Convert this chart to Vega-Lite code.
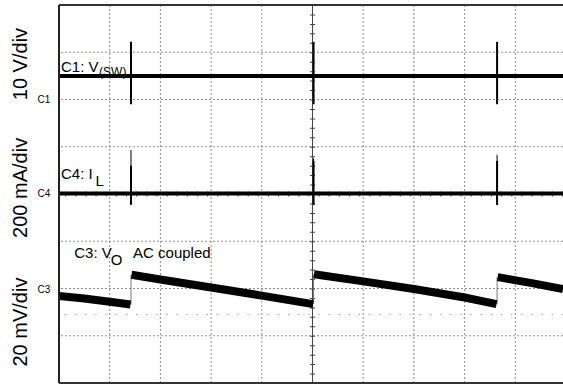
{
  "$schema": "https://vega.github.io/schema/vega-lite/v6.json",
  "autosize": {"type": "none"},
  "padding": {"left": 59, "top": 5, "right": 0, "bottom": 2},
  "width": 504,
  "height": 378,
  "background": "white",
  "config": {"view": {"stroke": null}, "text": {"font": "Liberation Sans"}},
  "datasets": {
    "gridx": [{"x": 1}, {"x": 2}, {"x": 3}, {"x": 4}, {"x": 6}, {"x": 7}, {"x": 8}, {"x": 9}],
    "gridy": [{"y": 1}, {"y": 2}, {"y": 3}, {"y": 5}, {"y": 6}, {"y": 7}],
    "c1spikes": [{"x": 1.42, "top": 7.22, "bot": 5.9}, {"x": 5.02, "top": 7.22, "bot": 5.9}, {"x": 8.64, "top": 7.22, "bot": 5.9}],
    "c4spikes": [{"x": 1.42, "top": 4.93, "mid": 4.6, "bot": 3.77}, {"x": 5.02, "top": 4.75, "mid": 4.7, "bot": 3.77}, {"x": 8.64, "top": 4.83, "mid": 4.7, "bot": 3.77}],
    "c3": [
      {"seg": 0, "x": 0.0, "y": 1.84},
      {"seg": 0, "x": 0.5, "y": 1.79},
      {"seg": 0, "x": 1.0, "y": 1.72},
      {"seg": 0, "x": 1.41, "y": 1.66},
      {"seg": 1, "x": 1.43, "y": 2.29},
      {"seg": 1, "x": 2.0, "y": 2.19},
      {"seg": 1, "x": 3.0, "y": 2.02},
      {"seg": 1, "x": 4.0, "y": 1.85},
      {"seg": 1, "x": 5.01, "y": 1.67},
      {"seg": 2, "x": 5.03, "y": 2.3},
      {"seg": 2, "x": 6.0, "y": 2.15},
      {"seg": 2, "x": 7.0, "y": 1.99},
      {"seg": 2, "x": 8.0, "y": 1.81},
      {"seg": 2, "x": 8.63, "y": 1.67},
      {"seg": 3, "x": 8.65, "y": 2.24},
      {"seg": 3, "x": 9.3, "y": 2.12},
      {"seg": 3, "x": 9.94, "y": 1.99}
    ],
    "c3jumps": [{"x": 1.42, "lo": 1.66, "hi": 2.29}, {"x": 5.02, "lo": 1.67, "hi": 2.3}, {"x": 8.64, "lo": 1.67, "hi": 2.24}],
    "ylabels": [{"t": "10 V/div", "x": -0.75, "y": 6.75}, {"t": "200 mA/div", "x": -0.75, "y": 4.13}, {"t": "20 mV/div", "x": -0.75, "y": 1.29}],
    "markers": [{"t": "C1", "x": -0.17, "y": 6.0}, {"t": "C4", "x": -0.17, "y": 4.0}, {"t": "C3", "x": -0.17, "y": 1.97}],
    "labels": [{"t": "C1: V", "x": 0.04, "y": 6.58}, {"t": "C4: I", "x": 0.04, "y": 4.32}, {"t": "C3: V", "x": 0.3, "y": 2.64}, {"t": "AC coupled", "x": 1.46, "y": 2.64}],
    "subs": [{"t": "(SW)", "x": 0.79, "y": 6.5}],
    "subsBig": [{"t": "L", "x": 0.72, "y": 4.17}, {"t": "O", "x": 1.02, "y": 2.5}]
  },
  "layer": [
    {
      "data": {"name": "gridx"},
      "mark": {"type": "rule", "color": "#8c8c8c", "strokeWidth": 1, "strokeDash": [2, 2]},
      "encoding": {
        "x": {"field": "x", "type": "quantitative", "scale": {"domain": [0, 9.94], "nice": false, "zero": false}, "axis": null}
      }
    },
    {
      "data": {"name": "gridy"},
      "mark": {"type": "rule", "color": "#8c8c8c", "strokeWidth": 1, "strokeDash": [2, 2]},
      "encoding": {
        "y": {"field": "y", "type": "quantitative", "scale": {"domain": [0, 8], "nice": false, "zero": false}, "axis": null}
      }
    },
    {
      "data": {"values": [{"x": 5}]},
      "mark": {"type": "rule", "color": "#444", "strokeWidth": 1},
      "encoding": {"x": {"field": "x", "type": "quantitative"}}
    },
    {
      "data": {"values": [{"x": 5}]},
      "mark": {"type": "rule", "color": "#444", "strokeWidth": 5, "strokeDash": [1, 8.45]},
      "encoding": {"x": {"field": "x", "type": "quantitative"}}
    },
    {
      "data": {"values": [{"y": 4}]},
      "mark": {"type": "rule", "color": "#444", "strokeWidth": 5, "strokeDash": [1, 9.14]},
      "encoding": {"y": {"field": "y", "type": "quantitative"}}
    },
    {
      "data": {"values": [{"y": 1.45}]},
      "mark": {"type": "rule", "color": "#999", "strokeWidth": 1.2, "strokeDash": [1.2, 8.94]},
      "encoding": {"y": {"field": "y", "type": "quantitative"}}
    },
    {
      "data": {"values": [{"y": 6.5}]},
      "mark": {"type": "rule", "color": "black", "strokeWidth": 4},
      "encoding": {"y": {"field": "y", "type": "quantitative"}}
    },
    {
      "data": {"name": "c1spikes"},
      "mark": {"type": "rule", "color": "black", "strokeWidth": 2},
      "encoding": {
        "x": {"field": "x", "type": "quantitative"},
        "y": {"field": "top", "type": "quantitative"},
        "y2": {"field": "bot"}
      }
    },
    {
      "data": {"values": [{"y": 4.01}]},
      "mark": {"type": "rule", "color": "black", "strokeWidth": 4},
      "encoding": {"y": {"field": "y", "type": "quantitative"}}
    },
    {
      "data": {"name": "c4spikes"},
      "mark": {"type": "rule", "color": "black", "strokeWidth": 1},
      "encoding": {
        "x": {"field": "x", "type": "quantitative"},
        "y": {"field": "top", "type": "quantitative"},
        "y2": {"field": "bot"}
      }
    },
    {
      "data": {"name": "c4spikes"},
      "mark": {"type": "rule", "color": "black", "strokeWidth": 2},
      "encoding": {
        "x": {"field": "x", "type": "quantitative"},
        "y": {"field": "mid", "type": "quantitative"},
        "y2": {"field": "bot"}
      }
    },
    {
      "data": {"name": "c3jumps"},
      "mark": {"type": "rule", "color": "#777", "strokeWidth": 1},
      "encoding": {
        "x": {"field": "x", "type": "quantitative"},
        "y": {"field": "lo", "type": "quantitative"},
        "y2": {"field": "hi"}
      }
    },
    {
      "data": {"name": "c3"},
      "mark": {"type": "line", "color": "black", "strokeWidth": 8, "strokeCap": "butt"},
      "encoding": {
        "x": {"field": "x", "type": "quantitative"},
        "y": {"field": "y", "type": "quantitative"},
        "detail": {"field": "seg", "type": "nominal"}
      }
    },
    {
      "data": {"values": [{"x": 0, "y": 0, "y2": 8}]},
      "mark": {"type": "rule", "color": "#222", "strokeWidth": 2},
      "encoding": {"x": {"field": "x", "type": "quantitative"}, "y": {"field": "y", "type": "quantitative"}, "y2": {"field": "y2"}}
    },
    {
      "data": {"values": [{"y": 8}, {"y": 0}]},
      "mark": {"type": "rule", "color": "#333", "strokeWidth": 2},
      "encoding": {"y": {"field": "y", "type": "quantitative"}}
    },
    {
      "data": {"name": "ylabels"},
      "mark": {"type": "text", "fontSize": 20, "angle": 270, "align": "center", "baseline": "middle", "color": "black"},
      "encoding": {"x": {"field": "x", "type": "quantitative"}, "y": {"field": "y", "type": "quantitative"}, "text": {"field": "t"}}
    },
    {
      "data": {"name": "markers"},
      "mark": {"type": "text", "fontSize": 10, "align": "right", "baseline": "middle", "color": "black"},
      "encoding": {"x": {"field": "x", "type": "quantitative"}, "y": {"field": "y", "type": "quantitative"}, "text": {"field": "t"}}
    },
    {
      "data": {"name": "labels"},
      "mark": {"type": "text", "fontSize": 15, "align": "left", "baseline": "alphabetic", "color": "black"},
      "encoding": {"x": {"field": "x", "type": "quantitative"}, "y": {"field": "y", "type": "quantitative"}, "text": {"field": "t"}}
    },
    {
      "data": {"name": "subs"},
      "mark": {"type": "text", "fontSize": 12, "align": "left", "baseline": "alphabetic", "color": "black"},
      "encoding": {"x": {"field": "x", "type": "quantitative"}, "y": {"field": "y", "type": "quantitative"}, "text": {"field": "t"}}
    },
    {
      "data": {"name": "subsBig"},
      "mark": {"type": "text", "fontSize": 15, "align": "left", "baseline": "alphabetic", "color": "black"},
      "encoding": {"x": {"field": "x", "type": "quantitative"}, "y": {"field": "y", "type": "quantitative"}, "text": {"field": "t"}}
    }
  ]
}
